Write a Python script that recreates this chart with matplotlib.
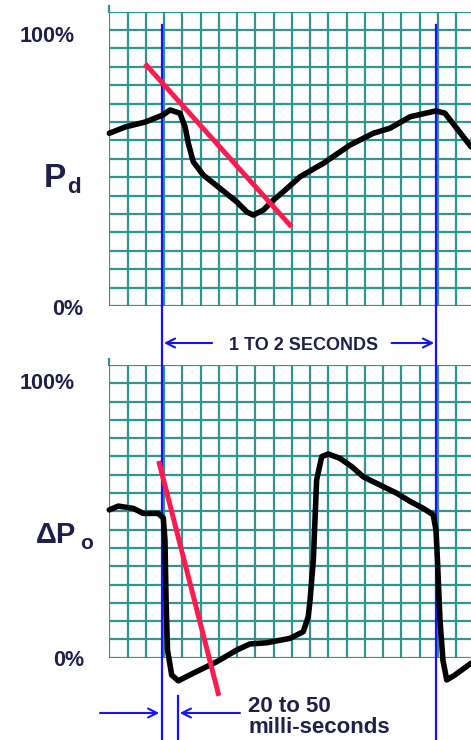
import matplotlib
matplotlib.use('Agg')
import numpy as np
import matplotlib.pyplot as plt
import matplotlib.transforms as mtransforms

W, H = 471, 740

# time in grid squares, level in percent of full scale
pd_t = [0.0, 0.86, 1.96, 2.94, 3.33, 3.87, 4.15, 4.33, 4.60, 5.15, 6.06, 6.98,
        7.53, 7.89, 8.44, 8.99, 9.53, 10.45, 11.73, 13.19, 14.47, 15.38,
        16.48, 17.90, 18.39, 19.11, 19.82]
pd_v = [58.7, 60.8, 62.5, 64.9, 66.6, 65.5, 60.9, 55.3, 49.0, 44.5, 40.0, 35.4,
        32.0, 30.9, 32.6, 36.0, 38.8, 43.9, 48.5, 54.7, 58.7, 60.4,
        64.3, 66.3, 65.5, 59.8, 54.1]

dpo_t = [0.0, 0.49, 1.32, 1.86, 2.68, 2.96, 3.05, 3.11, 3.19, 3.42, 3.78, 4.60,
         5.88, 6.98, 7.71, 8.62, 9.90, 10.63, 10.90, 11.00, 11.18, 11.36,
         11.64, 12.00, 12.64, 13.28, 13.92, 14.83, 15.75, 16.48, 17.21, 17.75,
         17.90, 17.98, 18.12, 18.28, 18.49, 18.94, 19.82]
dpo_v = [50.5, 51.8, 51.0, 49.3, 49.3, 47.7, 40.2, 19.7, 2.6, -5.9, -7.9, -5.3,
         -1.4, 2.6, 4.7, 5.1, 6.6, 8.9, 14.0, 19.7, 33.4, 60.7,
         68.7, 69.6, 68.1, 65.3, 61.8, 59.0, 56.2, 53.4, 51.0, 48.8,
         43.6, 33.4, 12.9, -0.8, -7.6, -5.9, -1.9]

# red slope lines
pd_slope_t = [2.05, 9.90]
pd_slope_v = [81.7, 27.5]
dpo_slope_t = [2.74, 5.97]
dpo_slope_v = [66.4, -12.2]

# blue time markers
marker_t = [2.89, 17.90]
delay_t = 3.74

period_label = '1 TO 2 SECONDS'
delay_label = ['20 to 50', 'milli-seconds']

GRID = '#2f958e'
BLUE = '#1414f5'
RED = '#ff1a4f'
TXT = '#1f1f4a'
FONT = 'Liberation Sans'

def fx(px):
    return px / W

def fy(py):
    return 1 - py / H

fig = plt.figure(figsize=(W / 100, H / 100), dpi=100)

def panel(top, bottom):
    ax = fig.add_axes([fx(109.3), fy(bottom), (W - 109.3) / W, (bottom - top) / H])
    ax.set_xlim(0, (W - 109.3) / 18.25)
    ax.set_ylim(0, 100)
    ax.axis('off')
    for x in range(20):
        ax.axvline(x, color=GRID, lw=1.6, zorder=1)
    for y in np.linspace(0, 100, 17):
        ax.axhline(y, color=GRID, lw=1.6, zorder=1)
    ax.plot([0, 0], [100, 102], color=GRID, lw=1.6, clip_on=False, zorder=1)
    return ax

ax1 = panel(11.7, 306)
ax2 = panel(365, 657.7)

b1 = mtransforms.blended_transform_factory(ax1.transData, fig.transFigure)
b2 = mtransforms.blended_transform_factory(ax2.transData, fig.transFigure)

# Blue markers #
for t in marker_t:
    ax1.plot([t, t], [fy(25), fy(306)], transform=b1, color=BLUE, lw=1.6,
             clip_on=False, zorder=2)
    ax2.plot([t, t], [fy(306), fy(740)], transform=b2, color=BLUE, lw=1.6,
             clip_on=False, zorder=2)
ax2.plot([delay_t, delay_t], [fy(696), fy(740)], transform=b2, color=BLUE,
         lw=1.6, clip_on=False, zorder=2)

# Curves #
ax1.plot(pd_t, pd_v, color='black', lw=4, solid_joinstyle='round',
         solid_capstyle='round', clip_on=False, zorder=3)
ax2.plot(dpo_t, dpo_v, color='black', lw=4, solid_joinstyle='round',
         solid_capstyle='round', clip_on=False, zorder=3)
ax1.plot(pd_slope_t, pd_slope_v, color=RED, lw=3.6, clip_on=False, zorder=4)
ax2.plot(dpo_slope_t, dpo_slope_v, color=RED, lw=3.6, clip_on=False, zorder=4)

# Arrows #
def arrow(x0, x1, py):
    ax2.annotate('', xy=(x1, fy(py)), xytext=(x0, fy(py)), xycoords=b2,
                 textcoords=b2, annotation_clip=False,
                 arrowprops=dict(arrowstyle='->', color=BLUE, lw=1.5,
                                 mutation_scale=16, shrinkA=0, shrinkB=0))

arrow(5.63, marker_t[0] + 0.1, 343)
arrow(15.47, marker_t[1] - 0.1, 343)
arrow(-0.51, marker_t[0] - 0.15, 713)
arrow(7.16, delay_t + 0.12, 713)

tb = dict(family=FONT, weight='bold', color=TXT, va='baseline')
fig.text(fx(304), fy(350), period_label, ha='center', fontsize=13, **tb)
fig.text(fx(248), fy(711.5), delay_label[0], ha='left', fontsize=16, **tb)
fig.text(fx(248), fy(733), delay_label[1], ha='left', fontsize=16, **tb)

# Axis labels #
fig.text(fx(75), fy(42), '100%', ha='right', fontsize=15.5, **tb)
fig.text(fx(83), fy(315), '0%', ha='right', fontsize=15.5, **tb)
fig.text(fx(75), fy(389), '100%', ha='right', fontsize=15.5, **tb)
fig.text(fx(84), fy(666.5), '0%', ha='right', fontsize=15.5, **tb)

fig.text(fx(44), fy(187), 'P', ha='left', fontsize=24, **tb)
fig.text(fx(67), fy(193), 'd', ha='left', fontsize=16, **tb)
fig.text(fx(36), fy(543), '\u0394P', ha='left', fontsize=21, **tb)
fig.text(fx(80), fy(549), 'o', ha='left', fontsize=15, **tb)

plt.savefig('out.png', dpi=100)
